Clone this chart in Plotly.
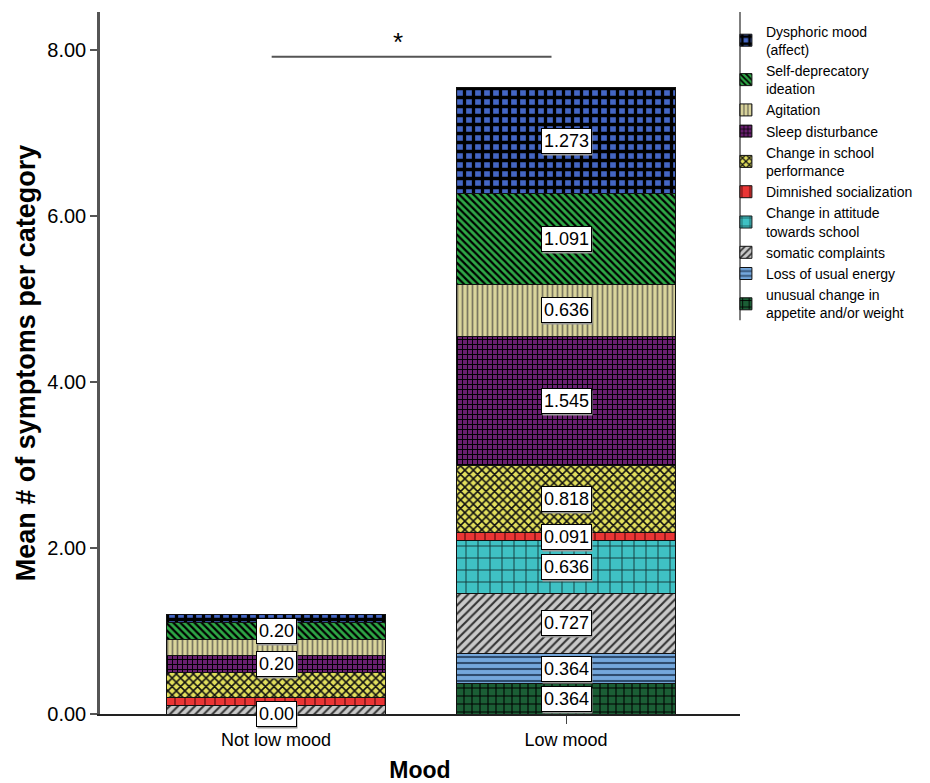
import plotly.graph_objects as go

# ---------------- data ----------------
categories = ["Not low mood", "Low mood"]

symptoms = [
    "unusual change in<br>appetite and/or weight",
    "Loss of usual energy",
    "somatic complaints",
    "Change in attitude<br>towards school",
    "Dimnished socialization",
    "Change in school<br>performance",
    "Sleep disturbance",
    "Agitation",
    "Self-deprecatory<br>ideation",
    "Dysphoric mood<br>(affect)",
]

not_low_mood = [0.00, 0.00, 0.10, 0.00, 0.10, 0.30, 0.20, 0.20, 0.20, 0.10]
low_mood = [0.364, 0.364, 0.727, 0.636, 0.091, 0.818, 1.545, 0.636, 1.091, 1.273]

# which segment labels are displayed in the "Not low mood" bar
not_low_shown = [True, False, False, False, False, False, True, False, True, False]

y_ticks = [0, 2, 4, 6, 8]

# ---------------- styles ----------------
bg_colors = ["#1b5e35", "#74a7dc", "#c9c9c9", "#3fc1c4", "#ea3535",
             "#e2df5c", "#6a1f70", "#dad59c", "#2ea846", "#4466c4"]
fg_colors = ["#000000", "#2f4c6e", "#333333", "#123838", "#5a0d0d",
             "#111111", "#000000", "#7a7760", "#000000", "#000000"]
shapes_pat = ["+", "-", "/", "+", "|", "x", "+", "|", "\\", "+"]
pat_size = [8, 6, 6, 12, 10, 6, 5, 5, 5, 9]
pat_solid = [0.25, 0.35, 0.35, 0.15, 0.12, 0.45, 0.35, 0.35, 0.45, 0.6]

FONT = "Liberation Sans, Arial, sans-serif"

fig = go.Figure()
for i, name in enumerate(symptoms):
    fig.add_trace(go.Bar(
        x=categories,
        y=[not_low_mood[i], low_mood[i]],
        name=name,
        marker=dict(
            color=bg_colors[i],
            line=dict(color="#111111", width=1),
            pattern=dict(shape=shapes_pat[i], bgcolor=bg_colors[i],
                         fgcolor=fg_colors[i], size=pat_size[i],
                         solidity=pat_solid[i], fillmode="replace"),
        ),
        hoverinfo="skip",
    ))


def blank_like(s):
    # invisible spacer of the same width, used for the drop shadow of a label box
    return "".join("\u2007" if c.isdigit() else "\u2008" for c in s)


# segment value labels
annotations = []
for ci, (cat, vals, fmt) in enumerate([(categories[0], not_low_mood, "{:.2f}"),
                                       (categories[1], low_mood, "{:.3f}")]):
    base = 0.0
    for i, v in enumerate(vals):
        show = not_low_shown[i] if ci == 0 else True
        if show:
            yc = base + v / 2
            label = fmt.format(v)
            annotations.append(dict(
                x=cat, y=yc, xref="x", yref="y", text=blank_like(label),
                showarrow=False, font=dict(family=FONT, size=18, color="#9a9a9a"),
                bgcolor="#9a9a9a", borderpad=2, xshift=1, yshift=-2))
            annotations.append(dict(
                x=cat, y=yc, xref="x", yref="y", text=label,
                showarrow=False, font=dict(family=FONT, size=18, color="#000000"),
                bgcolor="#ffffff", bordercolor="#000000", borderwidth=1, borderpad=2))
        base += v

# significance marker
sig_y = 7.92
sig_x0, sig_x1 = -0.015, 0.95
annotations.append(dict(x=0.42, y=8.10, xref="x", yref="y", text="*",
                        showarrow=False, font=dict(family=FONT, size=26, color="#000")))

shapes = [
    dict(type="line", xref="x", yref="y", x0=sig_x0, x1=sig_x1, y0=sig_y, y1=sig_y,
         line=dict(color="#555555", width=2)),
    dict(type="line", xref="paper", yref="paper", x0=1, x1=1, y0=0.561, y1=1,
         line=dict(color="#555555", width=1.5)),
]

# the page body adds an 8px offset, so the figure is sized to end at the window edge
fig.update_layout(
    width=922, height=775,
    margin=dict(l=92, r=190, t=4, b=69, autoexpand=False),
    paper_bgcolor="white", plot_bgcolor="white",
    barmode="stack", bargap=0.245,
    font=dict(family=FONT, color="#000"),
    showlegend=True,
    legend=dict(x=0.978, xanchor="left", y=0.995, yanchor="top",
                traceorder="reversed", font=dict(family=FONT, size=14),
                bgcolor="rgba(0,0,0,0)", itemclick=False),
    annotations=annotations,
    shapes=shapes,
    xaxis=dict(range=[-0.607, 1.6], showline=True, linecolor="#222", linewidth=2,
               ticks="outside", ticklen=8, tickcolor="#444", automargin=False,
               tickfont=dict(family=FONT, size=18, color="#000"),
               title=dict(text="<b>Mood</b>", font=dict(family=FONT, size=23), standoff=24),
               showgrid=False, zeroline=False),
    yaxis=dict(range=[0, 8.46], tickvals=y_ticks, tickformat=".2f",
               showline=True, linecolor="#555", linewidth=2.5, automargin=False,
               ticks="outside", ticklen=7, tickcolor="#555", tickwidth=2,
               tickfont=dict(family=FONT, size=20, color="#000"),
               title=dict(text="<b>Mean # of symptoms per category</b>",
                          font=dict(family=FONT, size=27), standoff=4),
               showgrid=False, zeroline=False),
)

fig.write_html("out.html")
